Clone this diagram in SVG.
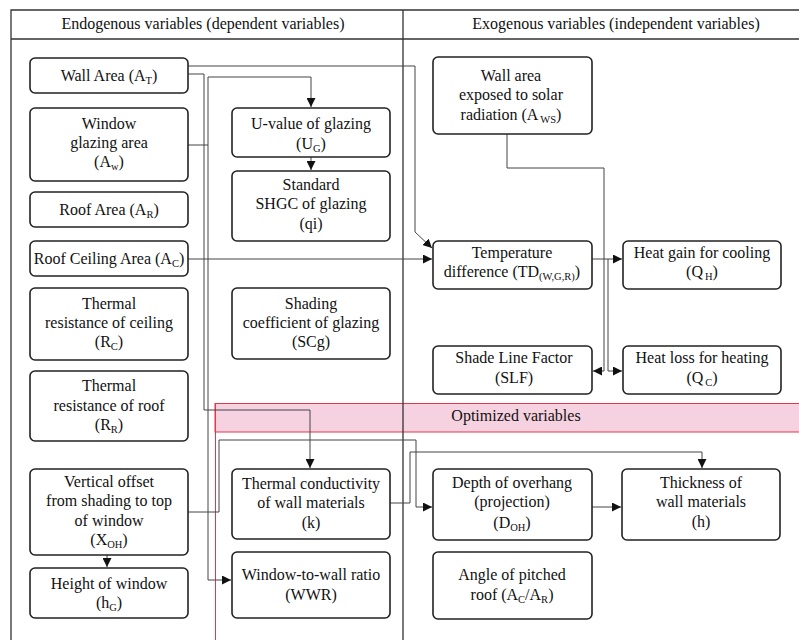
<svg xmlns="http://www.w3.org/2000/svg" width="799" height="640" viewBox="0 0 799 640">
<defs>
<marker id="ah" viewBox="0 0 10 10" refX="10" refY="5" markerWidth="9" markerHeight="9" markerUnits="userSpaceOnUse" orient="auto"><path d="M0,0 L10,5 L0,10 z" fill="#111"/></marker>
<style>
text{font-family:"Liberation Serif","Times New Roman",serif;font-size:16px;fill:#111;text-anchor:middle}
.s{font-size:10.5px}
.box rect{fill:#fff;stroke:#222;stroke-width:1.6}
.frame{stroke:#333;stroke-width:1.3;fill:none}
#connectors path{fill:none;stroke:#444;stroke-width:1}
.arr{marker-end:url(#ah)}
</style>
</defs>
<rect width="799" height="640" fill="#fff"/>
<g id="optimized">
<rect x="215" y="403.5" width="590" height="28.5" fill="#f6d1e0" stroke="#e0384f" stroke-width="1"/>
<line x1="215.5" y1="403" x2="215.5" y2="640" stroke="#e0384f" stroke-width="1"/>
<text x="516" y="421">Optimized variables</text>
</g>
<g id="frame">
<path class="frame" d="M11,640 V10 H799 M11,39 H799 M403,10 V640"/>
<text x="203" y="29">Endogenous variables (dependent variables)</text>
<text x="616" y="29">Exogenous variables (independent variables)</text>
</g>
<g id="connectors">
<path class="arr" d="M188,66 H415 V232 L432,248"/>
<path class="arr" d="M188,74 H204 V410 H310 V468"/>
<path class="arr" d="M188,145 H208 V77 H311 V107"/>
<path class="arr" d="M208,145 V580 H231"/>
<path class="arr" d="M311,157 V170"/>
<path class="arr" d="M188,259 H432"/>
<path class="arr" d="M507,134 V168 H604 V371 H593"/>
<path class="arr" d="M592,259 H622"/>
<path class="arr" d="M608,259 V371 H622"/>
<path class="arr" d="M390,503 H410 V452 H702 V468"/>
<path class="arr" d="M188,512 H219 V440 H416 V507 H432"/>
<path class="arr" d="M592,507 H621"/>
<path class="arr" d="M107,555 V567"/>
</g>
<g id="wallArea" class="box"><rect x="30" y="58" width="158" height="35" rx="5"/><text x="109" y="81">Wall Area (A<tspan class="s" dy="3">T</tspan><tspan dy="-3">)</tspan></text></g>
<g id="windowGlazing" class="box"><rect x="30" y="108" width="158" height="73" rx="5"/><text x="109" y="129">Window</text><text x="109" y="148">glazing area</text><text x="109" y="167">(A<tspan class="s" dy="3">w</tspan><tspan dy="-3">)</tspan></text></g>
<g id="roofArea" class="box"><rect x="30" y="192" width="158" height="35" rx="5"/><text x="109" y="215">Roof Area (A<tspan class="s" dy="3">R</tspan><tspan dy="-3">)</tspan></text></g>
<g id="roofCeiling" class="box"><rect x="30" y="241" width="158" height="35" rx="5"/><text x="109" y="264">Roof Ceiling Area (A<tspan class="s" dy="3">C</tspan><tspan dy="-3">)</tspan></text></g>
<g id="resCeiling" class="box"><rect x="30" y="288" width="158" height="72" rx="5"/><text x="109" y="309">Thermal</text><text x="109" y="328">resistance of ceiling</text><text x="109" y="347">(R<tspan class="s" dy="3">C</tspan><tspan dy="-3">)</tspan></text></g>
<g id="resRoof" class="box"><rect x="30" y="371" width="158" height="70" rx="5"/><text x="109" y="391">Thermal</text><text x="109" y="411">resistance of roof</text><text x="109" y="430">(R<tspan class="s" dy="3">R</tspan><tspan dy="-3">)</tspan></text></g>
<g id="verticalOffset" class="box"><rect x="30" y="469" width="158" height="86" rx="5"/><text x="109" y="487">Vertical offset</text><text x="109" y="506">from shading to top</text><text x="109" y="526">of window</text><text x="109" y="545">(X<tspan class="s" dy="3">OH</tspan><tspan dy="-3">)</tspan></text></g>
<g id="heightWindow" class="box"><rect x="30" y="568" width="158" height="50" rx="5"/><text x="109" y="589">Height of window</text><text x="109" y="608">(h<tspan class="s" dy="3">G</tspan><tspan dy="-3">)</tspan></text></g>
<g id="uValue" class="box"><rect x="232" y="108" width="158" height="49" rx="5"/><text x="311" y="129">U-value of glazing</text><text x="311" y="149">(U<tspan class="s" dy="3">G</tspan><tspan dy="-3">)</tspan></text></g>
<g id="shgc" class="box"><rect x="232" y="171" width="158" height="70" rx="5"/><text x="311" y="190">Standard</text><text x="311" y="209">SHGC of glazing</text><text x="311" y="229">(qi)</text></g>
<g id="shadingCoef" class="box"><rect x="232" y="288" width="158" height="71" rx="5"/><text x="311" y="309">Shading</text><text x="311" y="328">coefficient of glazing</text><text x="311" y="347">(SCg)</text></g>
<g id="conductivity" class="box"><rect x="232" y="469" width="158" height="70" rx="5"/><text x="311" y="489">Thermal conductivity</text><text x="311" y="508">of wall materials</text><text x="311" y="528">(k)</text></g>
<g id="wwr" class="box"><rect x="232" y="552" width="158" height="66" rx="5"/><text x="311" y="580">Window-to-wall ratio</text><text x="311" y="600">(WWR)</text></g>
<g id="wallExposed" class="box"><rect x="433" y="57" width="159" height="77" rx="5"/><text x="511" y="81">Wall area</text><text x="511" y="100">exposed to solar</text><text x="511" y="120">radiation (A<tspan class="s" dx="2" dy="3">WS</tspan><tspan dy="-3">)</tspan></text></g>
<g id="tempDiff" class="box"><rect x="433" y="241" width="159" height="48" rx="5"/><text x="512" y="258">Temperature</text><text x="512" y="277">difference (TD<tspan class="s" dy="3">(W,G,R)</tspan><tspan dy="-3">)</tspan></text></g>
<g id="heatGain" class="box"><rect x="623" y="241" width="158" height="48" rx="5"/><text x="702" y="258">Heat gain for cooling</text><text x="702" y="277">(Q<tspan class="s" dx="2" dy="3">H</tspan><tspan dy="-3">)</tspan></text></g>
<g id="slf" class="box"><rect x="433" y="346" width="159" height="48" rx="5"/><text x="514" y="363">Shade Line Factor</text><text x="514" y="383">(SLF)</text></g>
<g id="heatLoss" class="box"><rect x="623" y="346" width="158" height="48" rx="5"/><text x="702" y="363">Heat loss for heating</text><text x="702" y="383">(Q<tspan class="s" dx="2" dy="3">C</tspan><tspan dy="-3">)</tspan></text></g>
<g id="depthOverhang" class="box"><rect x="433" y="469" width="159" height="71" rx="5"/><text x="512" y="488">Depth of overhang</text><text x="512" y="507">(projection)</text><text x="512" y="528">(D<tspan class="s" dy="3">OH</tspan><tspan dy="-3">)</tspan></text></g>
<g id="thickness" class="box"><rect x="622" y="469" width="158" height="71" rx="5"/><text x="701" y="488">Thickness of</text><text x="701" y="507">wall materials</text><text x="701" y="527">(h)</text></g>
<g id="anglePitched" class="box"><rect x="433" y="552" width="159" height="67" rx="5"/><text x="512" y="580">Angle of pitched</text><text x="512" y="600">roof (A<tspan class="s" dy="3">C</tspan><tspan dy="-3">/A</tspan><tspan class="s" dy="3">R</tspan><tspan dy="-3">)</tspan></text></g>
</svg>
